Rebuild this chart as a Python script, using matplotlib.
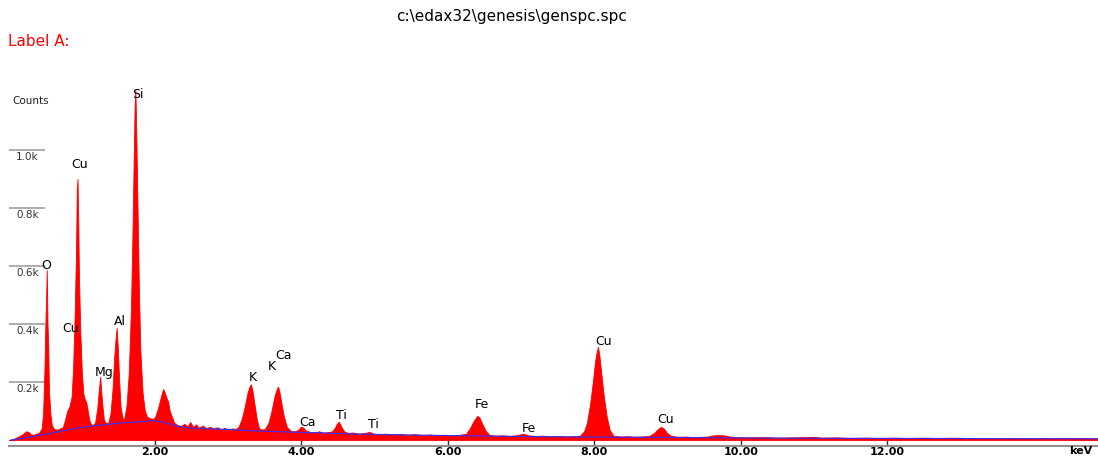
import numpy as np
import matplotlib
matplotlib.use('Agg')
import matplotlib.pyplot as plt

# spectrum (keV, counts)
energy = [0.00, 0.05, 0.10, 0.15, 0.20, 0.24, 0.27, 0.30, 0.34, 0.38, 0.42,
          0.45, 0.47, 0.49, 0.50, 0.51, 0.52, 0.53, 0.54, 0.55, 0.57, 0.59,
          0.62, 0.66, 0.70, 0.74, 0.77, 0.80, 0.83, 0.86, 0.88, 0.90, 0.92, 0.93, 0.94, 0.95, 0.96, 0.98,
          1.00, 1.02, 1.04, 1.06, 1.08, 1.10, 1.12, 1.15,
          1.18, 1.21, 1.23, 1.25, 1.26, 1.28, 1.30, 1.33, 1.36,
          1.39, 1.42, 1.44, 1.46, 1.475, 1.49, 1.51, 1.53, 1.56, 1.58,
          1.61, 1.64, 1.67, 1.69, 1.71, 1.72, 1.73, 1.74, 1.76, 1.78, 1.80, 1.83, 1.86, 1.89, 1.93, 1.97,
          2.00, 2.04, 2.08, 2.11, 2.13, 2.15, 2.18, 2.20, 2.23, 2.26, 2.30,
          2.35, 2.40, 2.44, 2.48, 2.52, 2.56, 2.60, 2.65, 2.70, 2.75, 2.80, 2.85, 2.90, 2.95, 3.00, 3.05, 3.10, 3.14,
          3.18, 3.22, 3.26, 3.29, 3.31, 3.33, 3.36, 3.39, 3.42, 3.46, 3.50,
          3.55, 3.59, 3.63, 3.66, 3.68, 3.70, 3.73, 3.76, 3.80, 3.85, 3.90, 3.95,
          3.99, 4.02, 4.06, 4.12, 4.18, 4.24, 4.30, 4.36, 4.42,
          4.45, 4.48, 4.51, 4.54, 4.58, 4.64, 4.70, 4.78, 4.86, 4.93, 4.98, 5.05, 5.15, 5.25, 5.35,
          5.45, 5.55, 5.65, 5.75, 5.85, 5.95, 6.05, 6.15, 6.25,
          6.30, 6.35, 6.40, 6.43, 6.47, 6.52, 6.57, 6.65, 6.75, 6.85, 6.95, 7.03, 7.10, 7.20, 7.30,
          7.40, 7.50, 7.60, 7.70, 7.80,
          7.86, 7.90, 7.94, 7.98, 8.01, 8.03, 8.05, 8.07, 8.10, 8.13, 8.17, 8.21, 8.26, 8.35, 8.45,
          8.55, 8.65, 8.75,
          8.82, 8.87, 8.91, 8.95, 8.99, 9.05, 9.15, 9.25, 9.35, 9.45, 9.55, 9.62, 9.70, 9.78, 9.85,
          9.95, 10.1, 10.3, 10.5, 10.7, 10.9, 11.0, 11.1, 11.3, 11.5, 11.7, 11.9, 12.1, 12.3, 12.5,
          12.7, 12.9, 13.1, 13.3, 13.5, 13.7, 13.9, 14.1, 14.3, 14.5, 14.7, 14.88]
counts = [0, 2, 8, 14, 22, 30, 28, 20, 18, 22, 26,
          40, 90, 260, 390, 480, 586, 400, 330, 170, 90, 50,
          38, 35, 40, 44, 70, 100, 115, 150, 250, 420, 650, 860, 900, 760, 560, 360,
          230, 160, 140, 130, 100, 70, 56, 50,
          60, 110, 170, 218, 180, 120, 70, 58, 60,
          90, 180, 280, 350, 386, 320, 200, 110, 70, 75,
          120, 230, 450, 700, 1000, 1150, 1207, 1100, 800, 500, 300, 160, 100, 80, 75, 72,
          80, 110, 150, 176, 165, 150, 130, 100, 80, 60, 52,
          48, 56, 46, 62, 45, 54, 42, 50, 40, 46, 38, 44, 36, 42, 35, 40, 38, 45,
          70, 110, 160, 185, 192, 170, 120, 70, 40, 36, 38,
          60, 100, 150, 175, 184, 165, 120, 80, 45, 32, 30, 34,
          45, 44, 32, 28, 26, 30, 25, 27, 30,
          40, 55, 63, 48, 30, 24, 26, 22, 24, 28, 22, 20, 22, 19, 21,
          18, 20, 17, 19, 16, 18, 15, 17, 22,
          40, 65, 83, 78, 55, 30, 17, 15, 16, 14, 17, 22, 16, 14, 15,
          12, 14, 12, 13, 14,
          30, 60, 120, 200, 270, 300, 321, 290, 220, 150, 80, 35, 15, 12, 13,
          11, 12, 14,
          25, 38, 45, 40, 25, 14, 11, 12, 10, 11, 12, 16, 17, 16, 12,
          10, 9, 10, 8, 9, 10, 11, 8, 9, 7, 8, 7, 8, 7, 8,
          7, 8, 7, 7, 6, 7, 6, 7, 6, 7, 6, 6]

# continuum (blue) line
bg_energy = [0.03, 0.2, 0.44, 0.7, 0.94, 1.2, 1.39, 1.6, 1.84, 1.98, 2.1, 2.3, 2.48, 2.85,
             3.3, 3.75, 4.21, 4.67, 5.5, 6.4, 7.0, 8.0, 9.0, 10.0, 11.0, 12.0, 13.0, 14.0, 14.88]
bg_counts = [0, 6, 17, 30, 41, 50, 55, 60, 63, 67, 62, 48, 41, 38,
             32, 28, 25, 21, 17, 14, 12, 10, 9, 7, 6, 5.5, 5, 4.5, 4]

# peak labels
peak_names = ['Si', 'Cu', 'O', 'Cu', 'Al', 'Mg', 'K', 'K', 'Ca', 'Ca', 'Ti', 'Ti',
              'Fe', 'Fe', 'Cu', 'Cu']
peak_x = [1.77, 0.97, 0.51, 0.85, 1.52, 1.30, 3.33, 3.60, 3.75, 4.08, 4.55, 4.98,
          6.47, 7.11, 8.12, 8.98]
peak_y = [1190, 948, 603, 386, 407, 234, 214, 255, 293, 62, 86, 52,
          121, 41, 341, 69]

y_ticks = [200, 400, 600, 800, 1000]
y_tick_labels = ['0.2k', '0.4k', '0.6k', '0.8k', '1.0k']
x_ticks = [2, 4, 6, 8, 10, 12]
x_tick_labels = ['2.00', '4.00', '6.00', '8.00', '10.00', '12.00']

W, H = 1098, 459
fig = plt.figure(figsize=(W / 100, H / 100), dpi=100)
# axes placed in pixels: left 8.7, bottom line at 446, top at 80
ax = fig.add_axes([8.7 / W, (H - 446) / H, (W - 8.7) / W, (446 - 80) / H])
ax.set_xlim(0, (W - 8.7) / 73.2)
ax.set_ylim(-20.7, 1241)

ax.fill_between(energy, counts, 0, color='#ff0000', lw=0.6, edgecolor='#ff0000', zorder=2)
ax.plot(bg_energy, bg_counts, color='#3030ff', lw=0.8, zorder=3)

# left scale marks
ax.hlines(y_ticks, 0, 0.5, color='#a0a0a0', lw=1.2, zorder=1)
for yv, lab in zip(y_ticks, y_tick_labels):
    ax.annotate(lab, (0.1, yv), xytext=(0, -1.5), textcoords='offset points',
                ha='left', va='top', fontsize=7.5, color='#333333', family='DejaVu Sans')
ax.text(0.05, 1170, 'Counts', fontsize=7.5, color='#222222', family='DejaVu Sans',
        ha='left', va='center')

for name, px, py in zip(peak_names, peak_x, peak_y):
    ax.text(px, py, name, fontsize=9, family='DejaVu Sans', ha='center', va='center',
            color='black', zorder=4)

for side in ['top', 'right', 'left']:
    ax.spines[side].set_visible(False)
ax.spines['bottom'].set_color('#909090')
ax.spines['bottom'].set_linewidth(1.5)
ax.set_yticks([])
ax.set_xticks(x_ticks)
ax.set_xticklabels(x_tick_labels, fontweight='bold', fontsize=8, family='DejaVu Sans')
ax.tick_params(axis='x', direction='in', length=4, width=1, color='#303030', pad=1)
ax.text(14.65, -20.7, 'keV', fontweight='bold', fontsize=8, family='DejaVu Sans',
        ha='center', va='top')

fig.text(512 / W, 1 - 16 / H, 'c:\\edax32\\genesis\\genspc.spc', fontsize=11,
         family='DejaVu Sans', ha='center', va='center')
fig.text(8 / W, 1 - 42 / H, 'Label A:', fontsize=11, family='DejaVu Sans',
         color='#ff0000', ha='left', va='center')

fig.savefig('out.png', dpi=100)
